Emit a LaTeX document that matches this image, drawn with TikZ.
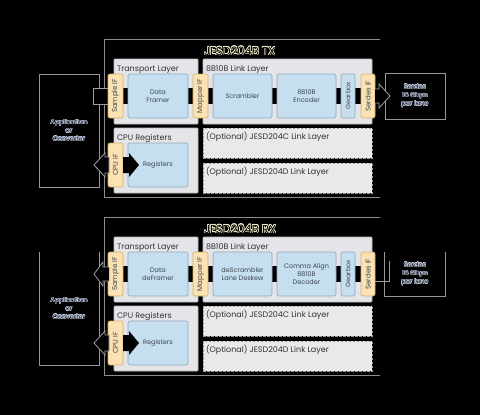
\documentclass[tikz,border=0pt]{standalone}
\usepackage{fontspec}
\setmainfont{Poppins}
\usepackage{contour}
\contourlength{0.45pt}
\usetikzlibrary{calc}
\definecolor{layfill}{HTML}{E4E5E8}
\definecolor{laybd}{HTML}{B8BBC0}
\definecolor{blufill}{HTML}{C5DEF0}
\definecolor{blubd}{HTML}{8FA6B8}
\definecolor{tanfill}{HTML}{FCE2B2}
\definecolor{tanbd}{HTML}{D6AE6C}
\definecolor{optfill}{HTML}{E8E9EB}
\definecolor{optbd}{HTML}{9A9C9F}
\definecolor{outl}{HTML}{8C8C8C}
\definecolor{txtc}{HTML}{333333}
\definecolor{blktxt}{HTML}{3C4650}
\definecolor{halo}{HTML}{F0EACB}
\definecolor{halo2}{HTML}{C4CEE0}
\definecolor{darktxt}{HTML}{101420}
\newcommand{\halo}[1]{\contourlength{0.35pt}\contour{halo2}{#1}}
\pgfdeclarelayer{bgl}
\pgfdeclarelayer{lay}
\pgfdeclarelayer{bar}
\pgfsetlayers{bgl,lay,bar,main}
\tikzset{
  plain/.style={inner sep=0pt, outer sep=0pt},
  frame/.style={draw=outl, line width=0.8pt},
  appline/.style={draw=outl!90, line width=0.8pt},
  layer/.style={plain, draw=laybd, fill=layfill, line width=0.8pt, rounded corners=1pt},
  opt/.style={plain, draw=optbd, dash pattern=on 2.5pt off 1.5pt, fill=optfill, line width=0.8pt},
  lbl/.style={plain, font=\fontsize{8}{9}\selectfont, text=txtc, anchor=base west},
  ttl/.style={plain, font=\fontsize{11.5}{12}\selectfont, text=black, anchor=base west},
  halotxt/.style={plain, font=\fontsize{6.5}{8.3}\selectfont, text=darktxt, align=center},
  blk/.style={plain, draw=blubd, fill=blufill, line width=0.6pt, rounded corners=2pt, font=\fontsize{6.5}{8}\selectfont, text=blktxt, align=center},
  gbx/.style={blk, rotate=90},
  ifc/.style={plain, draw=tanbd, fill=tanfill, line width=0.6pt, rounded corners=2pt, font=\fontsize{7}{8}\selectfont, text=blktxt, rotate=90},
  hollow/.style={draw=gray!75, fill=black, line width=0.8pt},
  solidarrow/.style={fill=black},
  grayline/.style={draw=gray!75, line width=0.8pt}
}
\begin{document}
\begin{tikzpicture}[x=1pt,y=-1pt]
\begin{pgfonlayer}{bgl}
\fill[black] (0,0) rectangle (480,415);
\end{pgfonlayer}
\useasboundingbox (0,0) rectangle (480,415);

%================ TX =================
\begin{pgfonlayer}{lay}
\node[plain, minimum width=276pt, minimum height=158pt] (txouter) at (242,118) {};
\draw[frame] (txouter.north east) -- (txouter.north west) -- (txouter.south west) -- (txouter.south east);
\node[halotxt, appline, minimum width=60pt, minimum height=113pt] (txapp) at (69,130.5)
  {\halo{Application}\\\halo{or}\\\halo{Converter}};
\node[layer, minimum width=84pt, minimum height=65pt] (txtrans) at (156,91.5) {};
\node[layer, minimum width=169pt, minimum height=65pt] (txlink) at (287.5,91.5) {};
\node[layer, minimum width=84pt, minimum height=65pt] (txcpu) at (156,160.5) {};
\node[opt, minimum width=169pt, minimum height=30pt] (txoptc) at (287.5,143) {};
\node[opt, minimum width=169pt, minimum height=30pt] (txoptd) at (287.5,178) {};
\end{pgfonlayer}
\node[ttl] (txtitle) at (204,55) {\contour{halo}{JESD204B TX}};
\node[lbl] (txtransl) at ($(txtrans.north west)+(3,12)$) {Transport Layer};
\node[lbl] (txlinkl) at ($(txlink.north west)+(3,12)$) {8B10B Link Layer};
\node[lbl] (txcpul) at ($(txcpu.north west)+(3,12)$) {CPU Registers};
\node[lbl] (txoptcl) at ($(txoptc.north west)+(3,11)$) {(Optional) JESD204C Link Layer};
\node[lbl] (txoptdl) at ($(txoptd.north west)+(3,11)$) {(Optional) JESD204D Link Layer};

\node[ifc, minimum width=44pt, minimum height=15pt] (txsif) at (115.5,96) {Sample IF};
\node[blk, minimum width=60pt, minimum height=44pt] (txdf) at (158,96) {Data\\Framer};
\node[ifc, minimum width=44pt, minimum height=15pt] (txmif) at (200.5,96) {Mapper IF};
\node[blk, minimum width=59pt, minimum height=44pt] (txscr) at (242.5,96) {Scrambler};
\node[blk, minimum width=59pt, minimum height=44pt] (txenc) at (306.5,96) {8B10B\\Encoder};
\node[gbx, minimum width=44pt, minimum height=14pt] (txgb) at (348,96) {Gearbox};
\node[ifc, minimum width=44pt, minimum height=14pt] (txserif) at (368,96) {Serdes IF};
\node[halotxt, appline, minimum width=60pt, minimum height=46pt] (txser) at (415,96)
  {\halo{Serdes}\\\halo{16 Gbps}\\\halo{per lane}};
\node[ifc, minimum width=44pt, minimum height=15pt] (txcpuif) at (115.5,165) {CPU IF};
\node[blk, minimum width=60pt, minimum height=44pt] (txreg) at (158,165) {Registers};

\begin{pgfonlayer}{bar}
\fill[black] ($(txsif.center)+(0,-8)$) rectangle ($(txserif.center)+(0,8)$);
\draw[hollow] ($(txapp.east |- txsif.center)+(-6,-8)$) rectangle ($(txsif.center)+(0,8)$);
\end{pgfonlayer}
\draw[hollow] (txcpuif.north) ++(1,-8) -- ++(-4,0) -- ++(0,-4) -- ++(-11,12) -- ++(11,12) -- ++(0,-4) -- ++(4,0) -- cycle;
\fill[solidarrow] (txcpuif.south) ++(0,-8) -- ++(6,0) -- ++(0,-4) -- ++(10,12) -- ++(-10,12) -- ++(0,-4) -- ++(-6,0) -- cycle;
\draw[hollow] (txserif.south) ++(0,-7) -- ++(4,0) -- ++(0,-5) -- ++(11,12) -- ++(-11,12) -- ++(0,-5) -- ++(-4,0);

%================ RX =================
\begin{scope}[yshift=-178pt]
\begin{pgfonlayer}{lay}
\node[plain, minimum width=276pt, minimum height=158pt] (rxouter) at (242,118) {};
\draw[frame] (rxouter.north east) -- (rxouter.north west) -- (rxouter.south west) -- (rxouter.south east);
\node[halotxt, minimum width=60pt, minimum height=113pt] (rxapp) at (69,130.5)
  {\halo{Application}\\\halo{or}\\\halo{Converter}};
\draw[appline] (rxapp.north west) -- (rxapp.south west) -- (rxapp.south east) -- (rxapp.north east);
\node[layer, minimum width=84pt, minimum height=65pt] (rxtrans) at (156,91.5) {};
\node[layer, minimum width=169pt, minimum height=65pt] (rxlink) at (287.5,91.5) {};
\node[layer, minimum width=84pt, minimum height=65pt] (rxcpu) at (156,160.5) {};
\node[opt, minimum width=169pt, minimum height=30pt] (rxoptc) at (287.5,143) {};
\node[opt, minimum width=169pt, minimum height=30pt] (rxoptd) at (287.5,178) {};
\end{pgfonlayer}
\node[ttl] (rxtitle) at (204,55) {\contour{halo}{JESD204B RX}};
\node[lbl] (rxtransl) at ($(rxtrans.north west)+(3,12)$) {Transport Layer};
\node[lbl] (rxlinkl) at ($(rxlink.north west)+(3,12)$) {8B10B Link Layer};
\node[lbl] (rxcpul) at ($(rxcpu.north west)+(3,12)$) {CPU Registers};
\node[lbl] (rxoptcl) at ($(rxoptc.north west)+(3,11)$) {(Optional) JESD204C Link Layer};
\node[lbl] (rxoptdl) at ($(rxoptd.north west)+(3,11)$) {(Optional) JESD204D Link Layer};

\node[ifc, minimum width=44pt, minimum height=15pt] (rxsif) at (115.5,96) {Sample IF};
\node[blk, minimum width=60pt, minimum height=44pt] (rxdf) at (158,96) {Data\\deFramer};
\node[ifc, minimum width=44pt, minimum height=15pt] (rxmif) at (200.5,96) {Mapper IF};
\node[blk, minimum width=59pt, minimum height=44pt] (rxscr) at (242.5,96) {deScrambler\\Lane Deskew};
\node[blk, minimum width=59pt, minimum height=44pt] (rxdec) at (306.5,96) {Comma Align\\8B10B\\Decoder};
\node[gbx, minimum width=44pt, minimum height=14pt] (rxgb) at (348,96) {Gearbox};
\node[ifc, minimum width=44pt, minimum height=14pt] (rxserif) at (368,96) {Serdes IF};
\node[halotxt, minimum width=61pt, minimum height=44pt] (rxser) at (415,96)
  {\halo{Serdes}\\\halo{16 Gbps}\\\halo{per lane}};
\draw[appline] (rxser.north west) -- (rxser.south west) -- (rxser.south east) -- (rxser.north east);
\node[ifc, minimum width=44pt, minimum height=15pt] (rxcpuif) at (115.5,165) {CPU IF};
\node[blk, minimum width=60pt, minimum height=44pt] (rxreg) at (158,165) {Registers};

\begin{pgfonlayer}{bar}
\fill[black] ($(rxsif.center)+(0,-8)$) rectangle ($(rxserif.center)+(0,8)$);
\end{pgfonlayer}
\draw[hollow] (rxsif.north) ++(1,-7) -- ++(-6,0) -- ++(0,-5) -- ++(-9,12) -- ++(9,12) -- ++(0,-5) -- ++(6,0);
\draw[hollow] (rxcpuif.north) ++(1,-8) -- ++(-4,0) -- ++(0,-4) -- ++(-11,12) -- ++(11,12) -- ++(0,-4) -- ++(4,0) -- cycle;
\fill[solidarrow] (rxcpuif.south) ++(0,-8) -- ++(6,0) -- ++(0,-4) -- ++(10,12) -- ++(-10,12) -- ++(0,-4) -- ++(-6,0) -- cycle;
\draw[grayline] (rxserif.south) ++(0,7) -- ++(14,0) -- ++(0,-20);
\end{scope}
\end{tikzpicture}
\end{document}
